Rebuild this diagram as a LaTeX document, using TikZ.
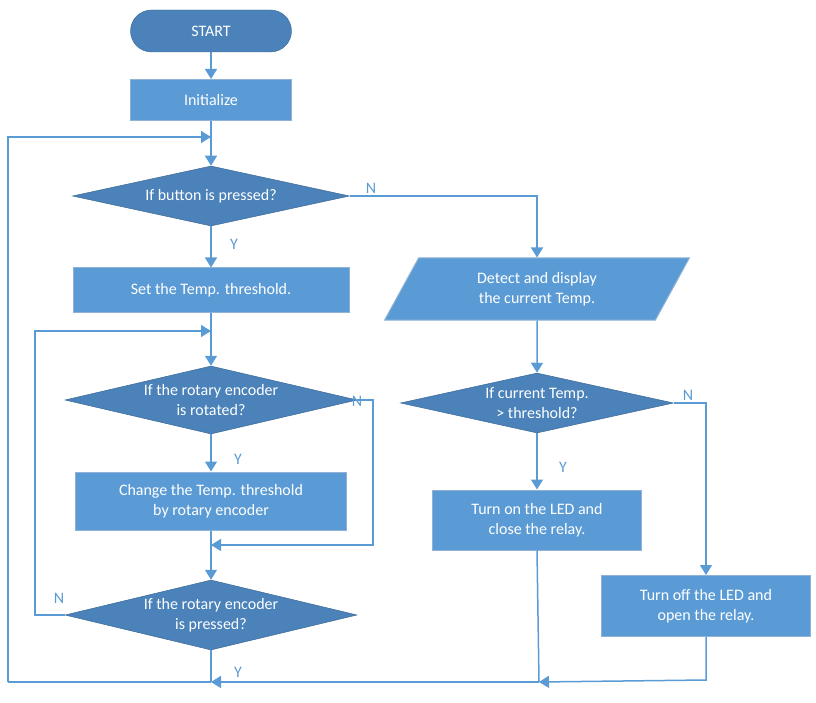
\documentclass[tikz,border=0pt]{standalone}
\usepackage{fontspec}
\setmainfont{Carlito}
\usetikzlibrary{shapes.geometric,arrows.meta}
\definecolor{dk}{HTML}{4A82B9}
\definecolor{lt}{HTML}{5B9BD5}
\definecolor{bd}{HTML}{8FB2D6}
\definecolor{ln}{HTML}{5B9BD5}
\begin{document}
\begin{tikzpicture}[x=1pt,y=-1pt,
  txt/.style={text=white,font=\fontsize{16}{20}\selectfont,align=center,inner sep=0},
  proc/.style={txt,rectangle,fill=lt,draw=bd,line width=1pt},
  dec/.style={txt,diamond,aspect=4.6,fill=dk,draw=dk!80!black,line width=0.5pt},
  lbl/.style={text=lt,font=\fontsize{16}{20}\selectfont},
  ar/.style={draw=ln,line width=1.5pt,-{Triangle[width=12pt,length=10pt]}},
  ln/.style={draw=ln,line width=1.5pt}]
\useasboundingbox (0,0) rectangle (816,703);
\node[txt,rounded corners=21pt,fill=dk,draw=dk!80!black,minimum width=161pt,minimum height=42pt] (start) at (211,31) {START};
\node[proc,minimum width=161pt,minimum height=41pt] (init) at (211,100) {Initialize};
\node[dec,minimum width=277pt,minimum height=60pt] (d1) at (211,196) {If button is pressed?};
\node[proc,minimum width=276pt,minimum height=44pt] (set) at (211,290) {Set the Temp. threshold.};
\node[dec,minimum width=292pt,minimum height=68pt] (d2) at (211,400) {If the rotary encoder\\is rotated?};
\node[proc,minimum width=271pt,minimum height=58pt] (chg) at (211,501) {Change the Temp. threshold\\by rotary encoder};
\node[dec,minimum width=292pt,minimum height=70pt] (d3) at (211,615) {If the rotary encoder\\is pressed?};
\node[txt,trapezium,trapezium left angle=63,trapezium right angle=117,fill=lt,draw=bd,line width=1pt,minimum width=305pt,minimum height=62pt,trapezium stretches=true] (det) at (537,289) {Detect and display\\the current Temp.};
\node[dec,minimum width=273pt,minimum height=60pt] (d4) at (537,403) {If current Temp.\\> threshold?};
\node[proc,minimum width=209pt,minimum height=60pt] (on) at (537,520) {Turn on the LED and\\close the relay.};
\node[proc,minimum width=209pt,minimum height=61pt] (off) at (706,606) {Turn off the LED and\\open the relay.};
\coordinate (j1) at (211,137);
\coordinate (j2) at (211,331);
\coordinate (j3) at (211,545);
\coordinate (j4) at (211,682);
\coordinate (j5) at (539,682);
\draw[ar] (start) -- (init);
\draw[ar] (init) -- (d1);
\draw[ar] (8,682) -- (8,137) -- (j1);
\draw[ar] (d1) -- (set);
\draw[ar] (d1.east) -| (det.north);
\draw[ar] (set) -- (d2);
\draw[ar] (d2) -- (chg);
\draw[ar] (chg) -- (d3);
\draw[ar] (d2.east) -- (373,400) -- (373,545) -- (j3);
\draw[ar] (d3.west) -- (35,615) -- (35,331) -- (j2);
\draw[ln] (d3.south) -- (j4);
\draw[ln] (j4) -- (8,682);
\draw[ar] (det) -- (d4);
\draw[ar] (d4) -- (on);
\draw[ar] (d4.east) -| (off.north);
\draw[ln] (on.south) -- (j5);
\draw[ar] (j5) -- (j4);
\draw[ar] (off.south) -- (706,680) -- (j5);
\node[lbl] at (371,188) {N};
\node[lbl] at (234,244) {Y};
\node[lbl] at (357,401) {N};
\node[lbl] at (238,459) {Y};
\node[lbl] at (59,598) {N};
\node[lbl] at (238,672) {Y};
\node[lbl] at (688,395) {N};
\node[lbl] at (563,467) {Y};
\end{tikzpicture}
\end{document}
